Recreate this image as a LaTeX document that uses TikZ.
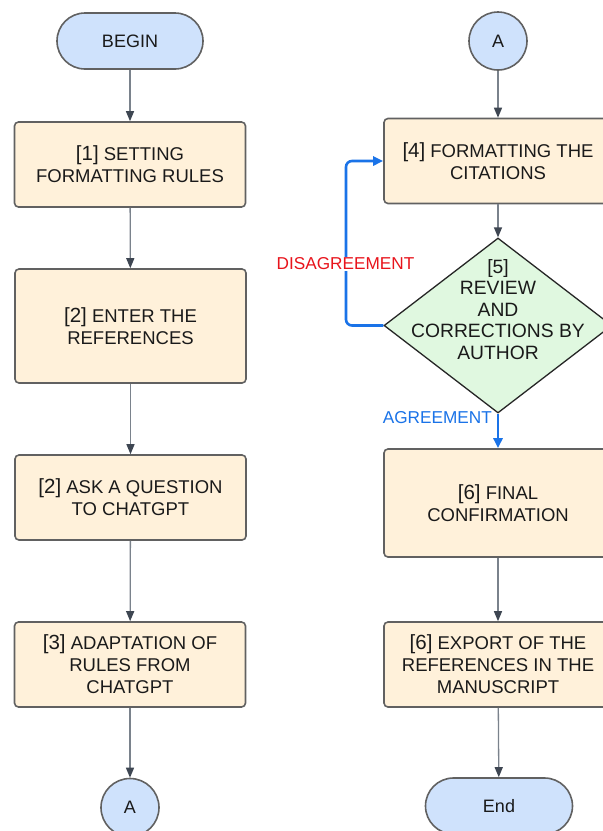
\documentclass[tikz,border=0pt]{standalone}
\usepackage{fontspec}
\setmainfont{Liberation Sans}
\usetikzlibrary{arrows.meta,shapes.geometric}
\definecolor{boxfill}{HTML}{FFF1DA}
\definecolor{termfill}{HTML}{CFE2FC}
\definecolor{decfill}{HTML}{E0F8E0}
\definecolor{edgegray}{HTML}{616161}
\definecolor{linegray}{HTML}{7A828C}
\definecolor{tipgray}{HTML}{3E4652}
\definecolor{loopblue}{HTML}{1A73E8}
\definecolor{disred}{HTML}{E8141C}
\definecolor{txt}{HTML}{1A1A1A}
\newcommand{\num}[1]{{\fontsize{20.5}{22}\selectfont #1}}
\tikzset{
  procbox/.style={draw=edgegray, line width=1.6pt, fill=boxfill, rounded corners=4pt,
    minimum width=231pt, text=txt, align=center, inner sep=0pt,
    font=\fontsize{18.5}{22}\selectfont},
  term/.style={draw=edgegray, line width=1.6pt, fill=termfill, rounded corners=28pt,
    minimum width=146pt, minimum height=56pt, text=txt, inner sep=0pt,
    font=\fontsize{18}{22}\selectfont},
  conn/.style={draw=edgegray, line width=1.6pt, fill=termfill, circle,
    minimum size=58pt, text=txt, inner sep=0pt, font=\fontsize{18}{22}\selectfont},
  flow/.style={draw=linegray, line width=1.3pt,
    -{Triangle[length=10pt,width=8pt,color=tipgray]}},
  bflow/.style={draw=loopblue, line width=2.6pt,
    -{Triangle[length=10pt,width=9pt,color=loopblue]}},
  lbl/.style={font=\fontsize{17.2}{18}\selectfont, inner sep=1pt, fill=white}
}
\begin{document}
\begin{tikzpicture}[x=1pt,y=-1pt]
\useasboundingbox (0,0) rectangle (603,831);
\clip (0,0) rectangle (603,831);
\fill[white] (0,0) rectangle (603,831);
% left column
\node[term] (begin) at (130,41) {BEGIN};
\node[procbox, minimum height=85pt] (b1) at (130,164.5) {\num{[1]} SETTING\\FORMATTING RULES};
\node[procbox, minimum height=114pt] (b2) at (130.5,326) {\num{[2]} ENTER THE\\REFERENCES};
\node[procbox, minimum height=85pt] (b3) at (130.5,497.5) {\num{[2]} ASK A QUESTION\\TO CHATGPT};
\node[procbox, minimum height=85pt] (b4) at (130,664.5) {\num{[3]} ADAPTATION OF\\RULES FROM\\CHATGPT};
\node[conn] (ca) at (130,807.5) {A};
% right column
\node[conn] (cb) at (498,41) {A};
\node[procbox, minimum width=228pt, minimum height=85pt] (r1) at (498,161) {\num{[4]} FORMATTING THE\\CITATIONS};
\node[diamond, draw=black!85, line width=1.3pt, fill=decfill, minimum width=228pt,
  minimum height=175pt, inner sep=0pt, aspect=1.3] (dec) at (498,325.5) {};
\node[text=txt, align=center, font=\fontsize{19.3}{21.5}\selectfont] (dect) at (498,309.5)
  {[5]\\REVIEW\\AND\\CORRECTIONS BY\\AUTHOR};
\node[procbox, minimum width=228pt, minimum height=108pt] (r2) at (498,503) {\num{[6]} FINAL\\CONFIRMATION};
\node[procbox, minimum width=228pt, minimum height=85pt] (r3) at (498,664.5) {\num{[6]} EXPORT OF THE\\REFERENCES IN THE\\MANUSCRIPT};
\node[term, minimum width=147pt] (end) at (499,806) {End};
% connectors
\draw[flow] (begin) -- (b1);
\draw[flow] (b1) -- (b2);
\draw[flow] (b2) -- (b3);
\draw[flow] (b3) -- (b4);
\draw[flow] (b4) -- (ca);
\draw[flow] (cb) -- (r1);
\draw[flow] (r1) -- (dec.north);
\draw[flow] (r2) -- (r3);
\draw[flow] (r3) -- (end);
\coordinate (lp) at (346,325.5);
\draw[bflow, rounded corners=6pt] (dec.west) -- (lp) -- (lp |- r1.west) -- (r1.west);
\draw[bflow] (dec.south) -- (r2.north);
\node[lbl, text=disred] (dis) at (345.5,264) {DISAGREEMENT};
\node[lbl, text=loopblue, anchor=east, fill=none] (agr) at (493,418) {AGREEMENT};
\end{tikzpicture}
\end{document}
